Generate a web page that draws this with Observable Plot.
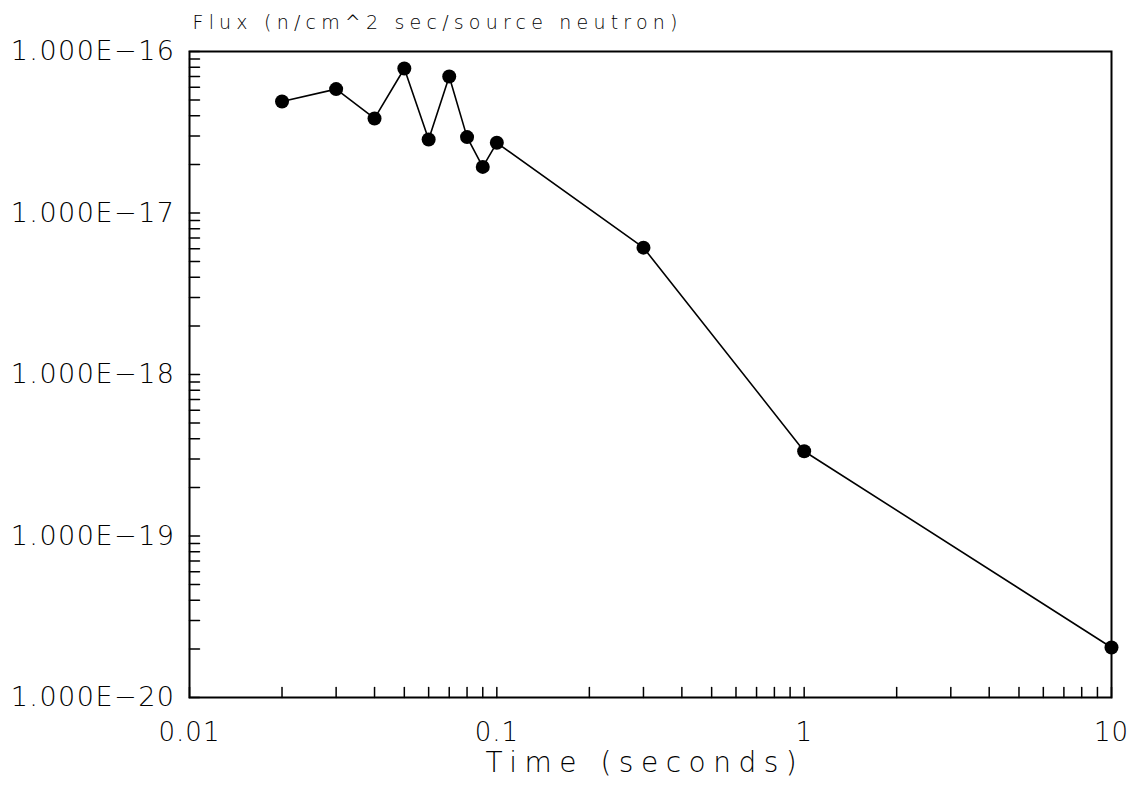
<!DOCTYPE html>
<html>
<head>
<meta charset="utf-8">
<script src="https://cdn.jsdelivr.net/npm/d3@7"></script>
<script src="https://cdn.jsdelivr.net/npm/@observablehq/plot@0.6"></script>
<style>
  html, body { margin: 0; padding: 0; background: #fff; }
</style>
</head>
<body>
<div id="chart"></div>
<script>
// ---- data ----
const times = [0.02, 0.03, 0.04, 0.05, 0.06, 0.07, 0.08, 0.09, 0.1, 0.3, 1, 10];
const flux  = [4.9e-17, 5.85e-17, 3.85e-17, 7.85e-17, 2.85e-17, 7.0e-17, 2.95e-17, 1.93e-17, 2.72e-17, 6.1e-18, 3.35e-19, 2.04e-20];

const yTicks = [1e-16, 1e-17, 1e-18, 1e-19, 1e-20];
const yTickLabels = ["1.000E\u221216", "1.000E\u221217", "1.000E\u221218", "1.000E\u221219", "1.000E\u221220"];
const xTicks = [0.01, 0.1, 1, 10];
const xTickLabels = ["0.01", "0.1", "1", "10"];
const xDecades = [0.01, 0.1, 1];
const yDecades = [1e-20, 1e-19, 1e-18, 1e-17];
const minorSteps = [1, 2, 3, 4, 5, 6, 7, 8, 9];

const titleText = "Flux (n/cm^2 sec/source neutron)";
const xLabelText = "Time (seconds)";

// ---- derived tables ----
const data = times.map((t, i) => ({t, f: flux[i]}));
const xMinor = xDecades.flatMap(d => minorSteps.map(s => d * s)).concat([10]);
const yMinor = yDecades.flatMap(d => minorSteps.map(s => d * s)).concat([1e-16]);

const tickShape = {draw(ctx, l) { ctx.moveTo(0, 0); ctx.lineTo(0, -l); }};
const FONT = "DejaVu Sans";

const chart = Plot.plot({
  width: 1137,
  height: 793,
  marginLeft: 189,
  marginRight: 26,
  marginTop: 51,
  marginBottom: 96,
  x: {type: "log", domain: [0.01, 10]},
  y: {type: "log", domain: [1e-20, 1e-16]},
  style: {fontFamily: FONT, background: "#fff", color: "#000"},
  marks: [
    Plot.frame({stroke: "#000", strokeWidth: 2}),
    Plot.vector(xMinor, {x: d => d, frameAnchor: "bottom", length: 10, rotate: 0, anchor: "start", shape: tickShape, stroke: "#000", strokeWidth: 1.5}),
    Plot.vector(yMinor, {y: d => d, frameAnchor: "left", length: 10, rotate: 90, anchor: "start", shape: tickShape, stroke: "#000", strokeWidth: 1.5}),
    Plot.line(data, {x: "t", y: "f", stroke: "#000", strokeWidth: 1.6}),
    Plot.dot(data, {x: "t", y: "f", r: 7, fill: "#000"}),
    Plot.axisX(xTicks, {anchor: "bottom", tickSize: 0, tickPadding: 25, tickFormat: d => xTickLabels[xTicks.indexOf(d)], fontSize: 26, fontWeight: 200, fill: "#000", label: null}),
    Plot.axisY(yTicks, {anchor: "left", tickSize: 0, tickPadding: 14, tickFormat: d => yTickLabels[yTicks.indexOf(d)], fontSize: 27, fontWeight: 200, fill: "#000", label: null}),
    Plot.text([titleText], {frameAnchor: "top-left", text: d => d, dx: 3, dy: -29, textAnchor: "start", lineAnchor: "middle", fontSize: 19, fontWeight: 200, fill: "#000"}),
    Plot.text([xLabelText], {frameAnchor: "bottom-left", text: d => d, dx: 296, dy: 66, textAnchor: "start", lineAnchor: "middle", fontSize: 28, fontWeight: 200, fill: "#000"})
  ]
});

document.getElementById("chart").appendChild(chart);

// letter spacing to mimic the wide plotter font
d3.select(chart).selectAll("text").each(function() {
  const t = this.textContent;
  if (t === titleText) this.style.letterSpacing = "5.2px";
  else if (t === xLabelText) this.style.letterSpacing = "7.5px";
  else if (yTickLabels.includes(t)) this.style.letterSpacing = "1.5px";
  else if (xTickLabels.includes(t)) this.style.letterSpacing = "1px";
});
</script>
</body>
</html>
